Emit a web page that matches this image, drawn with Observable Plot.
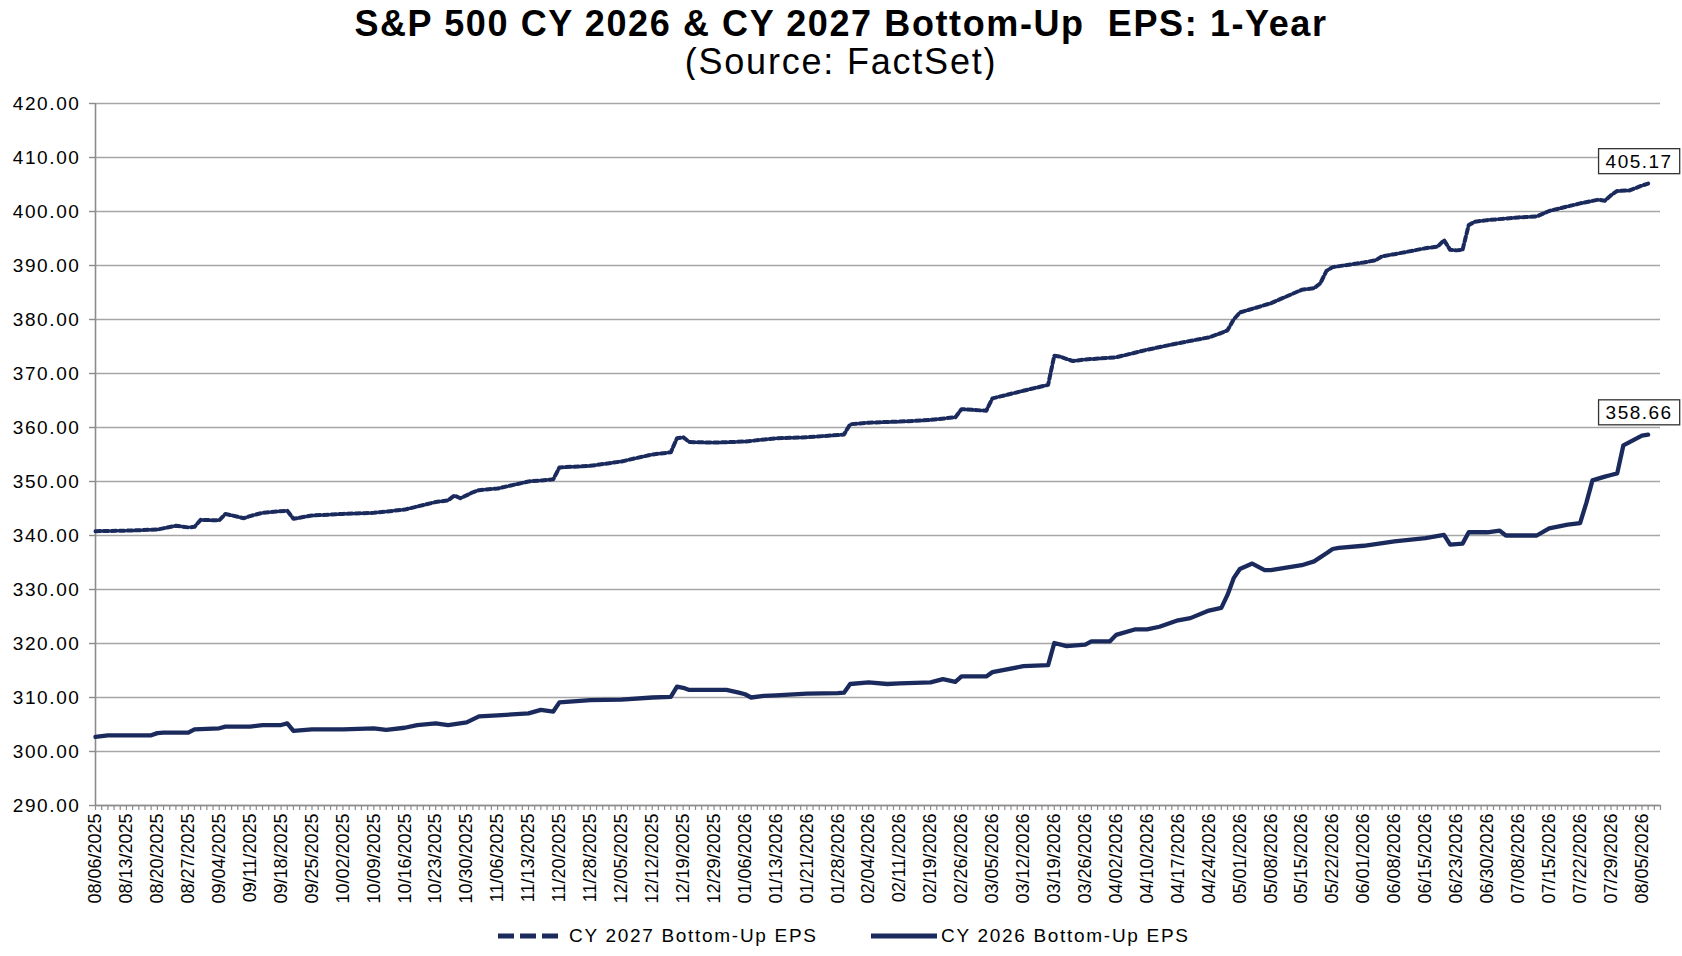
<!DOCTYPE html>
<html>
<head>
<meta charset="utf-8">
<script src="https://cdn.jsdelivr.net/npm/d3@7"></script>
<script src="https://cdn.jsdelivr.net/npm/@observablehq/plot@0.6"></script>
<style>
  html, body { margin: 0; padding: 0; background: #fff; }
  body { width: 1682px; height: 956px; position: relative; overflow: hidden; font-family: "Liberation Sans", Arial, sans-serif; }
  #title { position: absolute; left: 0; top: 0; width: 1682px; height: 80px; text-align: center; }
  #title .t1 { position: absolute; left: 0; width: 100%; top: 5px; font-size: 36px; line-height: 38px; font-weight: bold; letter-spacing: 1.6px; color: #000; }
  #title .t2 { position: absolute; left: 0; width: 100%; top: 43px; font-size: 36px; line-height: 38px; letter-spacing: 1.8px; color: #000; }
  #chart { position: absolute; left: 0; top: 80px; }
  #legend { position: absolute; left: 0; top: 915px; width: 1682px; height: 41px; }
  #legend .item { position: absolute; top: 0; height: 41px; display: flex; align-items: center; font-size: 19px; letter-spacing: 1.7px; color: #000; white-space: nowrap; }
</style>
</head>
<body>
<div id="title">
  <div class="t1">S&amp;P 500 CY 2026 &amp; CY 2027 Bottom-Up&nbsp; EPS: 1-Year</div>
  <div class="t2">(Source: FactSet)</div>
</div>
<div id="chart"></div>
<div id="legend">
  <div class="item" style="left:497px;">
    <svg width="68" height="10" style="margin-right:4px"><line x1="1" y1="5" x2="67" y2="5" stroke="#1b2a5c" stroke-width="5" stroke-dasharray="16,6"/></svg>
    <span>CY 2027 Bottom-Up EPS</span>
  </div>
  <div class="item" style="left:871px;">
    <svg width="66" height="10" style="margin-right:4px"><line x1="0" y1="5" x2="66" y2="5" stroke="#1b2a5c" stroke-width="5"/></svg>
    <span>CY 2026 Bottom-Up EPS</span>
  </div>
</div>
<script>
// ---------- data ----------
const tickLabels = ["08/06/2025","08/13/2025","08/20/2025","08/27/2025","09/04/2025","09/11/2025","09/18/2025","09/25/2025","10/02/2025","10/09/2025","10/16/2025","10/23/2025","10/30/2025","11/06/2025","11/13/2025","11/20/2025","11/28/2025","12/05/2025","12/12/2025","12/19/2025","12/29/2025","01/06/2026","01/13/2026","01/21/2026","01/28/2026","02/04/2026","02/11/2026","02/19/2026","02/26/2026","03/05/2026","03/12/2026","03/19/2026","03/26/2026","04/02/2026","04/10/2026","04/17/2026","04/24/2026","05/01/2026","05/08/2026","05/15/2026","05/22/2026","06/01/2026","06/08/2026","06/15/2026","06/23/2026","06/30/2026","07/08/2026","07/15/2026","07/22/2026","07/29/2026","08/05/2026"];

const marketHolidays = ["09/01/2025","11/27/2025","12/25/2025","01/01/2026","01/19/2026","02/16/2026","04/03/2026","05/25/2026","06/19/2026","07/03/2026"];

const yTicks = [290,300,310,320,330,340,350,360,370,380,390,400,410,420];

const dates2027 = ["08/06/2025","08/13/2025","08/20/2025","08/25/2025","08/27/2025","08/28/2025","08/29/2025","09/04/2025","09/05/2025","09/10/2025","09/11/2025","09/15/2025","09/19/2025","09/22/2025","09/25/2025","10/02/2025","10/09/2025","10/16/2025","10/23/2025","10/27/2025","10/28/2025","10/29/2025","10/31/2025","11/03/2025","11/06/2025","11/13/2025","11/19/2025","11/20/2025","11/28/2025","12/05/2025","12/12/2025","12/17/2025","12/18/2025","12/19/2025","12/22/2025","12/29/2025","01/06/2026","01/13/2026","01/21/2026","01/28/2026","01/29/2026","01/30/2026","02/04/2026","02/11/2026","02/19/2026","02/25/2026","02/26/2026","03/04/2026","03/05/2026","03/12/2026","03/18/2026","03/19/2026","03/20/2026","03/24/2026","03/26/2026","04/02/2026","04/10/2026","04/17/2026","04/24/2026","04/28/2026","04/29/2026","04/30/2026","05/01/2026","05/08/2026","05/15/2026","05/19/2026","05/20/2026","05/21/2026","05/22/2026","06/01/2026","06/03/2026","06/04/2026","06/08/2026","06/15/2026","06/17/2026","06/18/2026","06/22/2026","06/23/2026","06/24/2026","06/25/2026","06/26/2026","06/30/2026","07/08/2026","07/13/2026","07/15/2026","07/22/2026","07/27/2026","07/28/2026","07/29/2026","07/30/2026","08/03/2026","08/05/2026","08/06/2026"];
const eps2027 = [340.8,340.9,341.1,341.8,341.5,341.6,342.9,342.8,344.0,343.2,343.6,344.2,344.6,343.1,343.7,344.0,344.2,344.8,346.2,346.5,347.4,346.9,348.0,348.4,348.7,350.0,350.4,352.6,352.9,353.7,355.0,355.4,358.0,358.2,357.3,357.2,357.4,358.0,358.2,358.6,358.7,360.6,360.9,361.1,361.4,361.9,363.4,363.1,365.4,366.8,367.9,373.3,373.1,372.3,372.6,373.0,374.4,375.6,376.7,377.5,378.0,380.0,381.3,383.0,385.5,385.8,386.7,389.0,389.7,390.55,391.0,391.7,392.1,393.2,393.5,394.7,392.9,392.8,392.9,397.5,398.1,398.4,398.9,399.1,400.1,401.5,402.2,402.0,403.0,403.8,403.9,404.8,405.17];

const dates2026 = ["08/06/2025","08/08/2025","08/13/2025","08/19/2025","08/20/2025","08/21/2025","08/27/2025","08/28/2025","09/04/2025","09/05/2025","09/11/2025","09/15/2025","09/18/2025","09/19/2025","09/22/2025","09/25/2025","10/02/2025","10/09/2025","10/13/2025","10/16/2025","10/20/2025","10/23/2025","10/27/2025","10/30/2025","11/03/2025","11/06/2025","11/13/2025","11/17/2025","11/19/2025","11/20/2025","11/28/2025","12/05/2025","12/12/2025","12/17/2025","12/18/2025","12/19/2025","12/22/2025","12/31/2025","01/05/2026","01/06/2026","01/07/2026","01/09/2026","01/13/2026","01/21/2026","01/28/2026","01/29/2026","01/30/2026","02/04/2026","02/09/2026","02/11/2026","02/19/2026","02/23/2026","02/25/2026","02/26/2026","03/04/2026","03/05/2026","03/12/2026","03/18/2026","03/19/2026","03/23/2026","03/26/2026","03/27/2026","04/01/2026","04/02/2026","04/08/2026","04/10/2026","04/14/2026","04/17/2026","04/21/2026","04/24/2026","04/28/2026","04/29/2026","04/30/2026","05/01/2026","05/05/2026","05/07/2026","05/08/2026","05/15/2026","05/19/2026","05/21/2026","05/22/2026","05/26/2026","06/01/2026","06/08/2026","06/15/2026","06/18/2026","06/22/2026","06/24/2026","06/25/2026","06/30/2026","07/02/2026","07/06/2026","07/13/2026","07/15/2026","07/20/2026","07/22/2026","07/23/2026","07/24/2026","07/28/2026","07/29/2026","07/30/2026","07/31/2026","08/05/2026","08/06/2026"];
const eps2026 = [302.7,303.0,303.0,303.0,303.4,303.5,303.5,304.1,304.3,304.6,304.6,304.9,304.9,305.2,303.8,304.1,304.1,304.3,304.0,304.4,304.9,305.2,304.9,305.4,306.5,306.7,307.05,307.7,307.4,309.1,309.5,309.6,310.0,310.1,312.0,311.8,311.4,311.4,310.9,310.6,310.0,310.3,310.4,310.7,310.8,310.9,312.5,312.8,312.5,312.6,312.8,313.4,312.9,313.9,313.9,314.7,315.8,316.0,320.1,319.5,319.8,320.4,320.4,321.6,322.6,322.6,323.1,324.3,324.7,326.1,326.6,329.0,332.1,333.8,334.8,333.6,333.6,334.5,335.2,336.7,337.5,337.7,338.1,338.9,339.5,340.1,338.3,338.5,340.6,340.6,340.9,340.0,340.0,341.3,342.0,342.3,346.0,350.2,350.9,351.2,351.5,356.7,358.5,358.66];

// ---------- build ----------
const navy = "#1b2a5c";
const axisGray = "#8c8c8c";
const fmt = d3.utcFormat("%m/%d/%Y");
// trading-day categories (weekdays minus market holidays), through 08/10/2026
const tradingDays = d3.utcDay.range(new Date(Date.UTC(2025, 7, 6)), new Date(Date.UTC(2026, 7, 11)))
  .filter(d => d.getUTCDay() !== 0 && d.getUTCDay() !== 6)
  .map(fmt)
  .filter(s => !marketHolidays.includes(s));
const labelSet = new Set(tickLabels);

const zip = (ds, vs, series) => ds.slice(0, Math.min(ds.length, vs.length)).map((d, i) => ({date: d, eps: vs[i], series}));
const rows2027 = zip(dates2027, eps2027, "CY 2027 Bottom-Up EPS");
const rows2026 = zip(dates2026, eps2026, "CY 2026 Bottom-Up EPS");
const lastPoints = [rows2027[rows2027.length - 1], rows2026[rows2026.length - 1]];

const chart = Plot.plot({
  width: 1682,
  height: 835,
  marginTop: 23,
  marginBottom: 110,
  marginLeft: 95,
  marginRight: 22,
  style: {fontFamily: "Liberation Sans, Arial, sans-serif", fontSize: "18px", background: "#fff", color: "#000"},
  x: {type: "point", domain: tradingDays, padding: 0, label: null},
  y: {domain: [290, 420], label: null},
  marks: [
    Plot.gridY({ticks: yTicks, stroke: "#a6a6a6", strokeOpacity: 1, strokeWidth: 1.4}),
    Plot.axisY({ticks: yTicks, tickFormat: d3.format(".2f"), tickSize: 6, tickPadding: 9, stroke: axisGray, strokeWidth: 1.4, fill: "#000", fontSize: 19, label: null}),
    Plot.axisX({ticks: tradingDays, tickFormat: d => labelSet.has(d) ? d : "", tickSize: 5, tickPadding: 3, tickRotate: -90, stroke: axisGray, strokeWidth: 1.2, fill: "#000", fontSize: 18, label: null}),
    Plot.ruleX([tradingDays[0]], {stroke: axisGray, strokeWidth: 1.6}),
    Plot.ruleY([290], {stroke: axisGray, strokeWidth: 1.6}),
    Plot.line(rows2026, {x: "date", y: "eps", stroke: navy, strokeWidth: 4.3, strokeLinejoin: "round", strokeLinecap: "round"}),
    Plot.line(rows2027, {x: "date", y: "eps", stroke: navy, strokeWidth: 4, strokeDasharray: "5,3"}),
    Plot.text(lastPoints, {x: "date", y: "eps", text: d => d.eps.toFixed(2), dx: -9, dy: -22, fontSize: 19, fill: "#000", textAnchor: "middle"})
  ]
});

document.getElementById("chart").appendChild(chart);

// remove empty x tick labels and widen label spacing
chart.querySelectorAll('g[aria-label="x-axis tick label"] text').forEach(t => { if (!t.textContent) t.remove(); });
const yl = chart.querySelector('g[aria-label="y-axis tick label"]');
if (yl) yl.style.letterSpacing = "1.6px";

// boxes around end-value labels
const textGroup = chart.querySelector('g[aria-label="text"]');
if (textGroup) {
  textGroup.style.letterSpacing = "1.5px";
  textGroup.querySelectorAll("text").forEach(t => {
    const b = t.getBBox();
    const r = document.createElementNS("http://www.w3.org/2000/svg", "rect");
    const tr = t.getAttribute("transform");
    r.setAttribute("x", b.x - 7);
    r.setAttribute("y", b.y - 2);
    r.setAttribute("width", b.width + 14);
    r.setAttribute("height", b.height + 4);
    r.setAttribute("fill", "#fff");
    r.setAttribute("stroke", "#333");
    r.setAttribute("stroke-width", "1.3");
    if (tr) r.setAttribute("transform", tr);
    textGroup.insertBefore(r, t);
  });
}
</script>
</body>
</html>
